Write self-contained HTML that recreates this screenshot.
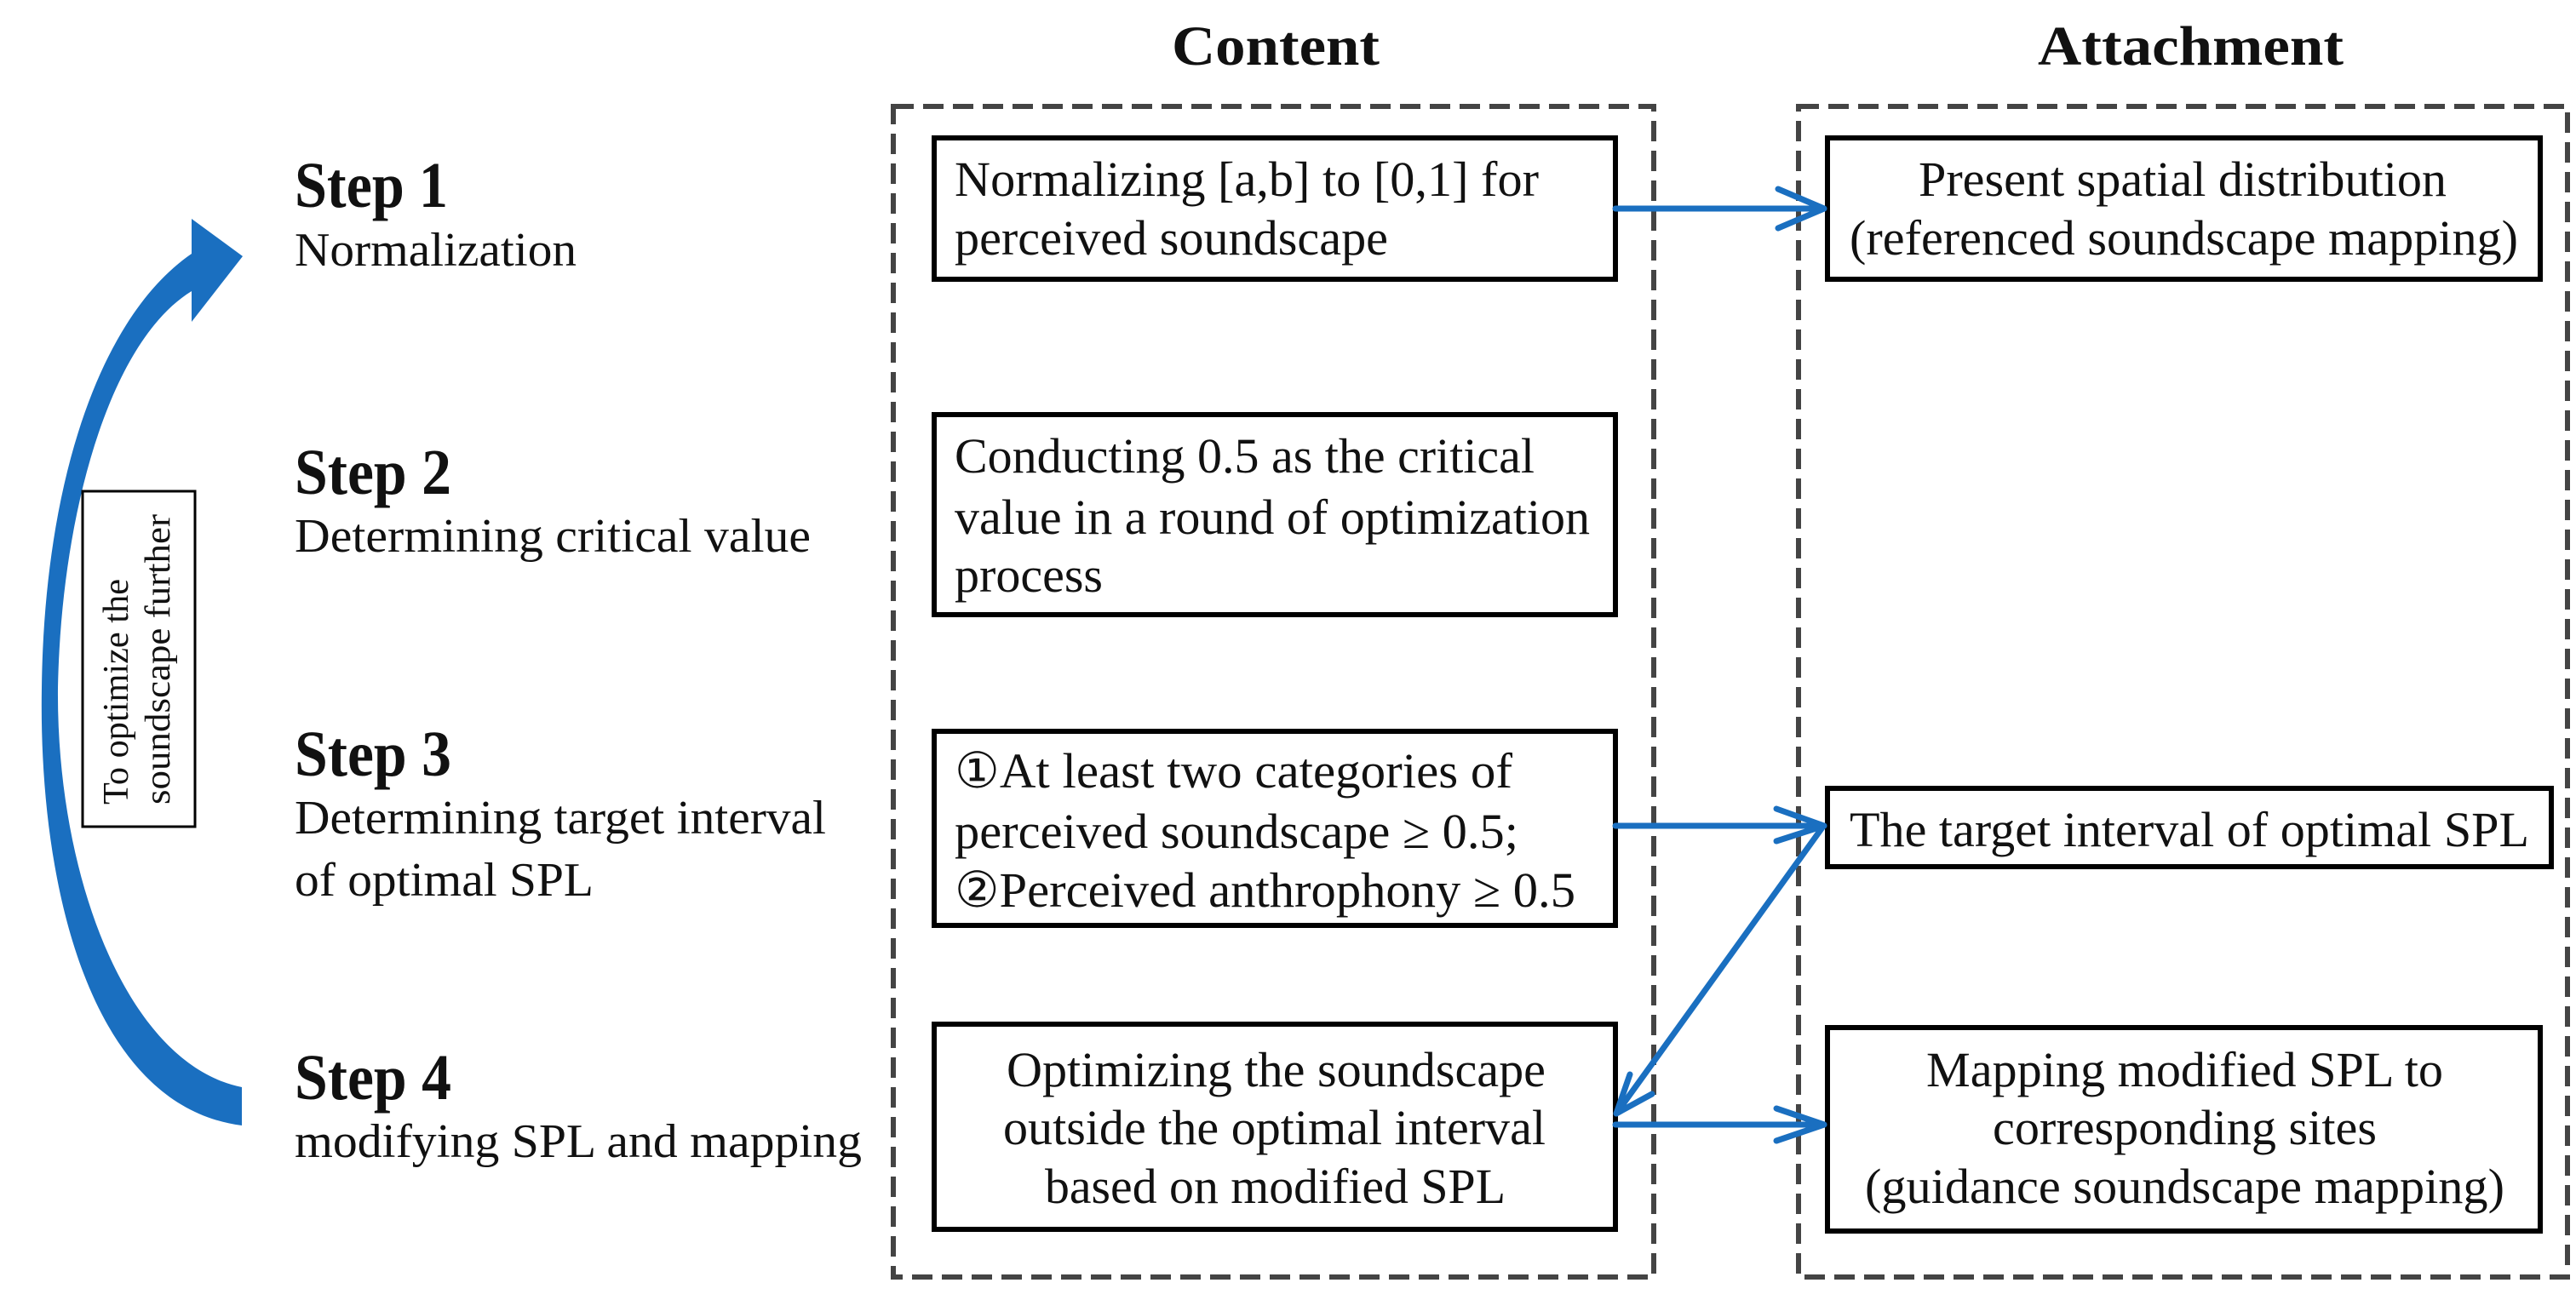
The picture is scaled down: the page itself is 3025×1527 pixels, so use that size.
<!DOCTYPE html>
<html><head><meta charset="utf-8"><style>
html,body{margin:0;padding:0;background:#fff;}
svg{display:block;}
text{font-family:"Liberation Serif","DejaVu Serif",serif;fill:#111;}
</style></head><body>
<svg width="3025" height="1527" viewBox="0 0 3025 1527" xmlns="http://www.w3.org/2000/svg">
<!-- titles -->
<g font-family="Liberation Serif, DejaVu Serif, serif">
<text x="1376" y="76" font-size="66" font-weight="bold" textLength="244" lengthAdjust="spacingAndGlyphs">Content</text>
<text x="2393" y="76" font-size="66" font-weight="bold" textLength="359" lengthAdjust="spacingAndGlyphs">Attachment</text>
</g>

<!-- dashed containers -->
<rect x="1049" y="125" width="893" height="1375" fill="none" stroke="#444" stroke-width="6" stroke-dasharray="24,11"/>
<rect x="2112" y="125" width="903" height="1375" fill="none" stroke="#444" stroke-width="6" stroke-dasharray="24,11"/>

<!-- content boxes -->
<g fill="#fff" stroke="#000" stroke-width="6">
<rect x="1097" y="162" width="800" height="166"/>
<rect x="1097" y="487" width="800" height="235"/>
<rect x="1097" y="859" width="800" height="228"/>
<rect x="1097" y="1203" width="800" height="241"/>
<rect x="2146" y="162" width="837" height="166"/>
<rect x="2146" y="926" width="850" height="92"/>
<rect x="2146" y="1207" width="837" height="239"/>
</g>

<g font-size="58" font-family="Liberation Serif, DejaVu Serif, serif">
<text x="1121" y="230" textLength="686" lengthAdjust="spacingAndGlyphs">Normalizing [a,b] to [0,1] for</text>
<text x="1121" y="299" textLength="509" lengthAdjust="spacingAndGlyphs">perceived soundscape</text>
<text x="1121" y="555" textLength="681" lengthAdjust="spacingAndGlyphs">Conducting 0.5 as the critical</text>
<text x="1121" y="627" textLength="746" lengthAdjust="spacingAndGlyphs">value in a round of optimization</text>
<text x="1121" y="695" textLength="174" lengthAdjust="spacingAndGlyphs">process</text>
<text x="1121" y="925" textLength="655" lengthAdjust="spacingAndGlyphs">①At least two categories of</text>
<text x="1121" y="996" textLength="662" lengthAdjust="spacingAndGlyphs">perceived soundscape ≥ 0.5;</text>
<text x="1121" y="1065" textLength="729" lengthAdjust="spacingAndGlyphs">②Perceived anthrophony ≥ 0.5</text>
<text x="1182" y="1276" textLength="633" lengthAdjust="spacingAndGlyphs">Optimizing the soundscape</text>
<text x="1178" y="1344" textLength="637" lengthAdjust="spacingAndGlyphs">outside the optimal interval</text>
<text x="1227" y="1413" textLength="541" lengthAdjust="spacingAndGlyphs">based on modified SPL</text>
<text x="2253" y="230" textLength="620" lengthAdjust="spacingAndGlyphs">Present spatial distribution</text>
<text x="2172" y="299" textLength="785" lengthAdjust="spacingAndGlyphs">(referenced soundscape mapping)</text>
<text x="2172" y="994" textLength="798" lengthAdjust="spacingAndGlyphs">The target interval of optimal SPL</text>
<text x="2262" y="1276" textLength="607" lengthAdjust="spacingAndGlyphs">Mapping modified SPL to</text>
<text x="2340" y="1344" textLength="451" lengthAdjust="spacingAndGlyphs">corresponding sites</text>
<text x="2190" y="1413" textLength="751" lengthAdjust="spacingAndGlyphs">(guidance soundscape mapping)</text>
</g>

<!-- connectors -->
<g stroke="#1a6fc0" stroke-width="7" fill="none" stroke-linecap="round" stroke-linejoin="round">
<line x1="1897" y1="245" x2="2142" y2="245"/>
<polyline points="2088,222 2142,245 2088,268"/>
<line x1="1897" y1="970" x2="2142" y2="970"/>
<polyline points="2086,950 2142,970 2086,988"/>
<line x1="1897" y1="1321" x2="2142" y2="1321"/>
<polyline points="2086,1302 2142,1321 2086,1340"/>
<line x1="2140" y1="972" x2="1898" y2="1308"/>
<polyline points="1914,1262 1898,1308 1940,1285"/>
</g>

<!-- left steps -->
<g font-family="Liberation Serif, DejaVu Serif, serif">
<text x="346" y="243" font-size="76" font-weight="bold" textLength="180" lengthAdjust="spacingAndGlyphs">Step 1</text>
<text x="346" y="312" font-size="56" textLength="331" lengthAdjust="spacingAndGlyphs">Normalization</text>
<text x="346" y="580" font-size="76" font-weight="bold" textLength="184" lengthAdjust="spacingAndGlyphs">Step 2</text>
<text x="346" y="648" font-size="56" textLength="606" lengthAdjust="spacingAndGlyphs">Determining critical value</text>
<text x="346" y="911" font-size="76" font-weight="bold" textLength="184" lengthAdjust="spacingAndGlyphs">Step 3</text>
<text x="346" y="979" font-size="56" textLength="624" lengthAdjust="spacingAndGlyphs">Determining target interval</text>
<text x="346" y="1052" font-size="56" textLength="351" lengthAdjust="spacingAndGlyphs">of optimal SPL</text>
<text x="346" y="1291" font-size="76" font-weight="bold" textLength="184" lengthAdjust="spacingAndGlyphs">Step 4</text>
<text x="346" y="1359" font-size="56" textLength="666" lengthAdjust="spacingAndGlyphs">modifying SPL and mapping</text>
</g>

<!-- curved arrow -->
<path d="M284,1322 C110,1300 45,1050 49,808 C52,560 120,370 225,298 L225,257 L285,301 L225,378 L225,342 C130,400 72,600 68,808 C66,1030 150,1250 284,1277 Z" fill="#1a6fc0"/>

<!-- label box -->
<rect x="97" y="577" width="132" height="394" fill="#fff" stroke="#000" stroke-width="3"/>
<g font-size="42" font-family="Liberation Serif, DejaVu Serif, serif">
<text transform="translate(150,945) rotate(-90)" textLength="265" lengthAdjust="spacingAndGlyphs">To optimize the</text>
<text transform="translate(199,945) rotate(-90)" textLength="341" lengthAdjust="spacingAndGlyphs">soundscape further</text>
</g>
</svg>
</body></html>
